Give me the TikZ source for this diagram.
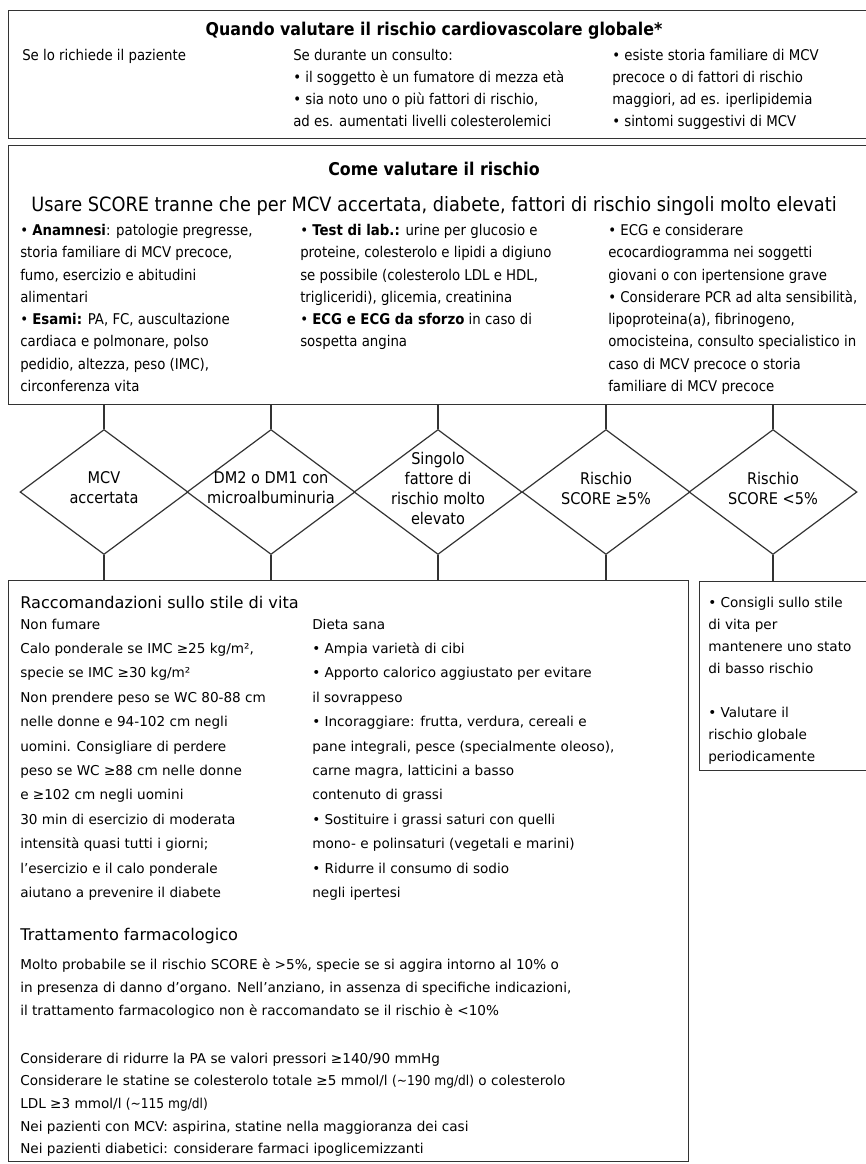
\documentclass[tikz,border=0pt]{standalone}
\usepackage{fontspec}
\setmainfont{DejaVu Sans}
\newfontfamily\narrowfont[FakeStretch=0.9]{DejaVu Sans}
\usetikzlibrary{shapes.geometric}
\tikzset{panel/.style={draw=black!80, line width=0.9pt, anchor=north west, inner sep=0pt},
  choice/.style={draw=black!80, line width=0.9pt, diamond, inner sep=0pt, minimum width=126pt, minimum height=93.75pt},
  choice text/.style={align=center, inner sep=0pt, yshift=3pt, font=\narrowfont\fontsize{12.1}{15}\selectfont},
  head/.style={inner sep=0pt, font=\narrowfont\bfseries\fontsize{13.2}{15}\selectfont},
  upper text/.style={anchor=north west, align=left, inner sep=0pt, font=\narrowfont\fontsize{11.1}{16.5}\selectfont},
  lower text/.style={anchor=north west, align=left, inner sep=0pt, font=\fontsize{10.2}{18.3}\selectfont},
  lower head/.style={anchor=west, inner sep=0pt, font=\fontsize{12.1}{14}\selectfont},
  link/.style={draw=black!80, line width=0.9pt},}

\begin{document}
\begin{tikzpicture}[x=0.75pt, y=-0.75pt]
\useasboundingbox (0,0) rectangle (866,1164);
% panels
\node [panel, minimum width=646.5pt, minimum height=96pt] (when) at (8,10) {};
\node [panel, minimum width=646.5pt, minimum height=194.25pt] (how) at (8,145) {};
\node [panel, minimum width=510pt, minimum height=435.75pt] (life) at (8,580) {};
\node [panel, minimum width=128.25pt, minimum height=141.75pt] (low) at (699,581) {};

% when to assess
\node [head] (whenT) at (434,31) {Quando valutare il rischio cardiovascolare globale*};
\node [upper text] (whenL) at (22,49) {Se lo richiede il paziente};
\node [upper text] (whenM) at (293,49) {Se durante un consulto:\\• il soggetto è un fumatore di mezza età\\• sia noto uno o più fattori di rischio,\\ad es. aumentati livelli colesterolemici};
\node [upper text] (whenR) at (612,49) {• esiste storia familiare di MCV\\precoce o di fattori di rischio\\maggiori, ad es. iperlipidemia\\• sintomi suggestivi di MCV};

% how to assess
\node [head] (howT) at (434,169) {Come valutare il rischio};
\node [inner sep=0pt, font=\narrowfont\fontsize{14.8}{16}\selectfont] (howS) at (434,206) {Usare SCORE tranne che per MCV accertata, diabete, fattori di rischio singoli molto elevati};
\node [upper text, font=\narrowfont\fontsize{11.1}{16.7}\selectfont] (howL) at (20,224) {• \textbf{Anamnesi}: patologie pregresse,\\storia familiare di MCV precoce,\\fumo, esercizio e abitudini\\alimentari\\• \textbf{Esami:} PA, FC, auscultazione\\cardiaca e polmonare, polso\\pedidio, altezza, peso (IMC),\\circonferenza vita};
\node [upper text, font=\narrowfont\fontsize{11.1}{16.7}\selectfont] (howM) at (300,224) {• \textbf{Test di lab.:} urine per glucosio e\\proteine, colesterolo e lipidi a digiuno\\se possibile (colesterolo LDL e HDL,\\trigliceridi), glicemia, creatinina\\• \textbf{ECG e ECG da sforzo} in caso di\\sospetta angina};
\node [upper text, font=\narrowfont\fontsize{11.1}{16.7}\selectfont] (howR) at (608,224) {• ECG e considerare\\ecocardiogramma nei soggetti\\giovani o con ipertensione grave\\• Considerare PCR ad alta sensibilità,\\lipoproteina(a), fibrinogeno,\\omocisteina, consulto specialistico in\\caso di MCV precoce o storia\\familiare di MCV precoce};

% risk categories
\node [choice] (d1) at (104,492) {};
\node [choice] (d2) at (271,492) {};
\node [choice] (d3) at (438,492) {};
\node [choice] (d4) at (606,492) {};
\node [choice] (d5) at (773,492) {};
\node [choice text] (d1t) at (d1) {MCV\\accertata};
\node [choice text] (d2t) at (d2) {DM2 o DM1 con\\microalbuminuria};
\node [choice text] (d3t) at (d3) {Singolo\\fattore di\\rischio molto\\elevato};
\node [choice text] (d4t) at (d4) {Rischio\\SCORE ≥5\%};
\node [choice text] (d5t) at (d5) {Rischio\\SCORE <5\%};
\foreach \d in {d1,d2,d3,d4} {
  \draw [link] (\d |- how.south) -- (\d.north);
  \draw [link] (\d.south) -- (\d |- life.north);
}
\draw [link] (d5 |- how.south) -- (d5.north);
\draw [link] (d5.south) -- (d5 |- low.north);

% lifestyle and drugs
\node [lower head] (lifeT) at (20,602) {Raccomandazioni sullo stile di vita};
\node [lower text] (lifeL) at (20,618.4) {Non fumare\\Calo ponderale se IMC ≥25 kg/m²,\\specie se IMC ≥30 kg/m²\\Non prendere peso se WC 80-88 cm\\nelle donne e 94-102 cm negli\\uomini. Consigliare di perdere\\peso se WC ≥88 cm nelle donne\\e ≥102 cm negli uomini\\30 min di esercizio di moderata\\intensità quasi tutti i giorni;\\l’esercizio e il calo ponderale\\aiutano a prevenire il diabete};
\node [lower text] (lifeR) at (312,618.4) {Dieta sana\\• Ampia varietà di cibi\\• Apporto calorico aggiustato per evitare\\il sovrappeso\\• Incoraggiare: frutta, verdura, cereali e\\pane integrali, pesce (specialmente oleoso),\\carne magra, latticini a basso\\contenuto di grassi\\• Sostituire i grassi saturi con quelli\\mono- e polinsaturi (vegetali e marini)\\• Ridurre il consumo di sodio\\negli ipertesi};
\node [lower head] (drugT) at (20,936) {Trattamento farmacologico};
\node [lower text, font=\fontsize{10.2}{17.25}\selectfont] (drugA) at (20,958.4) {Molto probabile se il rischio SCORE è >5\%, specie se si aggira intorno al 10\% o\\in presenza di danno d’organo. Nell’anziano, in assenza di specifiche indicazioni,\\il trattamento farmacologico non è raccomandato se il rischio è <10\%};
\node [lower text, font=\fontsize{10.2}{17}\selectfont] (drugB) at (20,1052.4) {Considerare di ridurre la PA se valori pressori ≥140/90 mmHg\\Considerare le statine se colesterolo totale ≥5 mmol/l {\narrowfont (\textasciitilde190 mg/dl)} o colesterolo\\LDL ≥3 mmol/l {\narrowfont (\textasciitilde115 mg/dl)}\\Nei pazienti con MCV: aspirina, statine nella maggioranza dei casi\\Nei pazienti diabetici: considerare farmaci ipoglicemizzanti};

% low risk
\node [lower text, font=\fontsize{10.2}{16.5}\selectfont] (lowA) at (708,596.4) {• Consigli sullo stile\\di vita per\\mantenere uno stato\\di basso rischio};
\node [lower text, font=\fontsize{10.2}{16.5}\selectfont] (lowB) at (708,706.4) {• Valutare il\\rischio globale\\periodicamente};
\end{tikzpicture}
\end{document}
